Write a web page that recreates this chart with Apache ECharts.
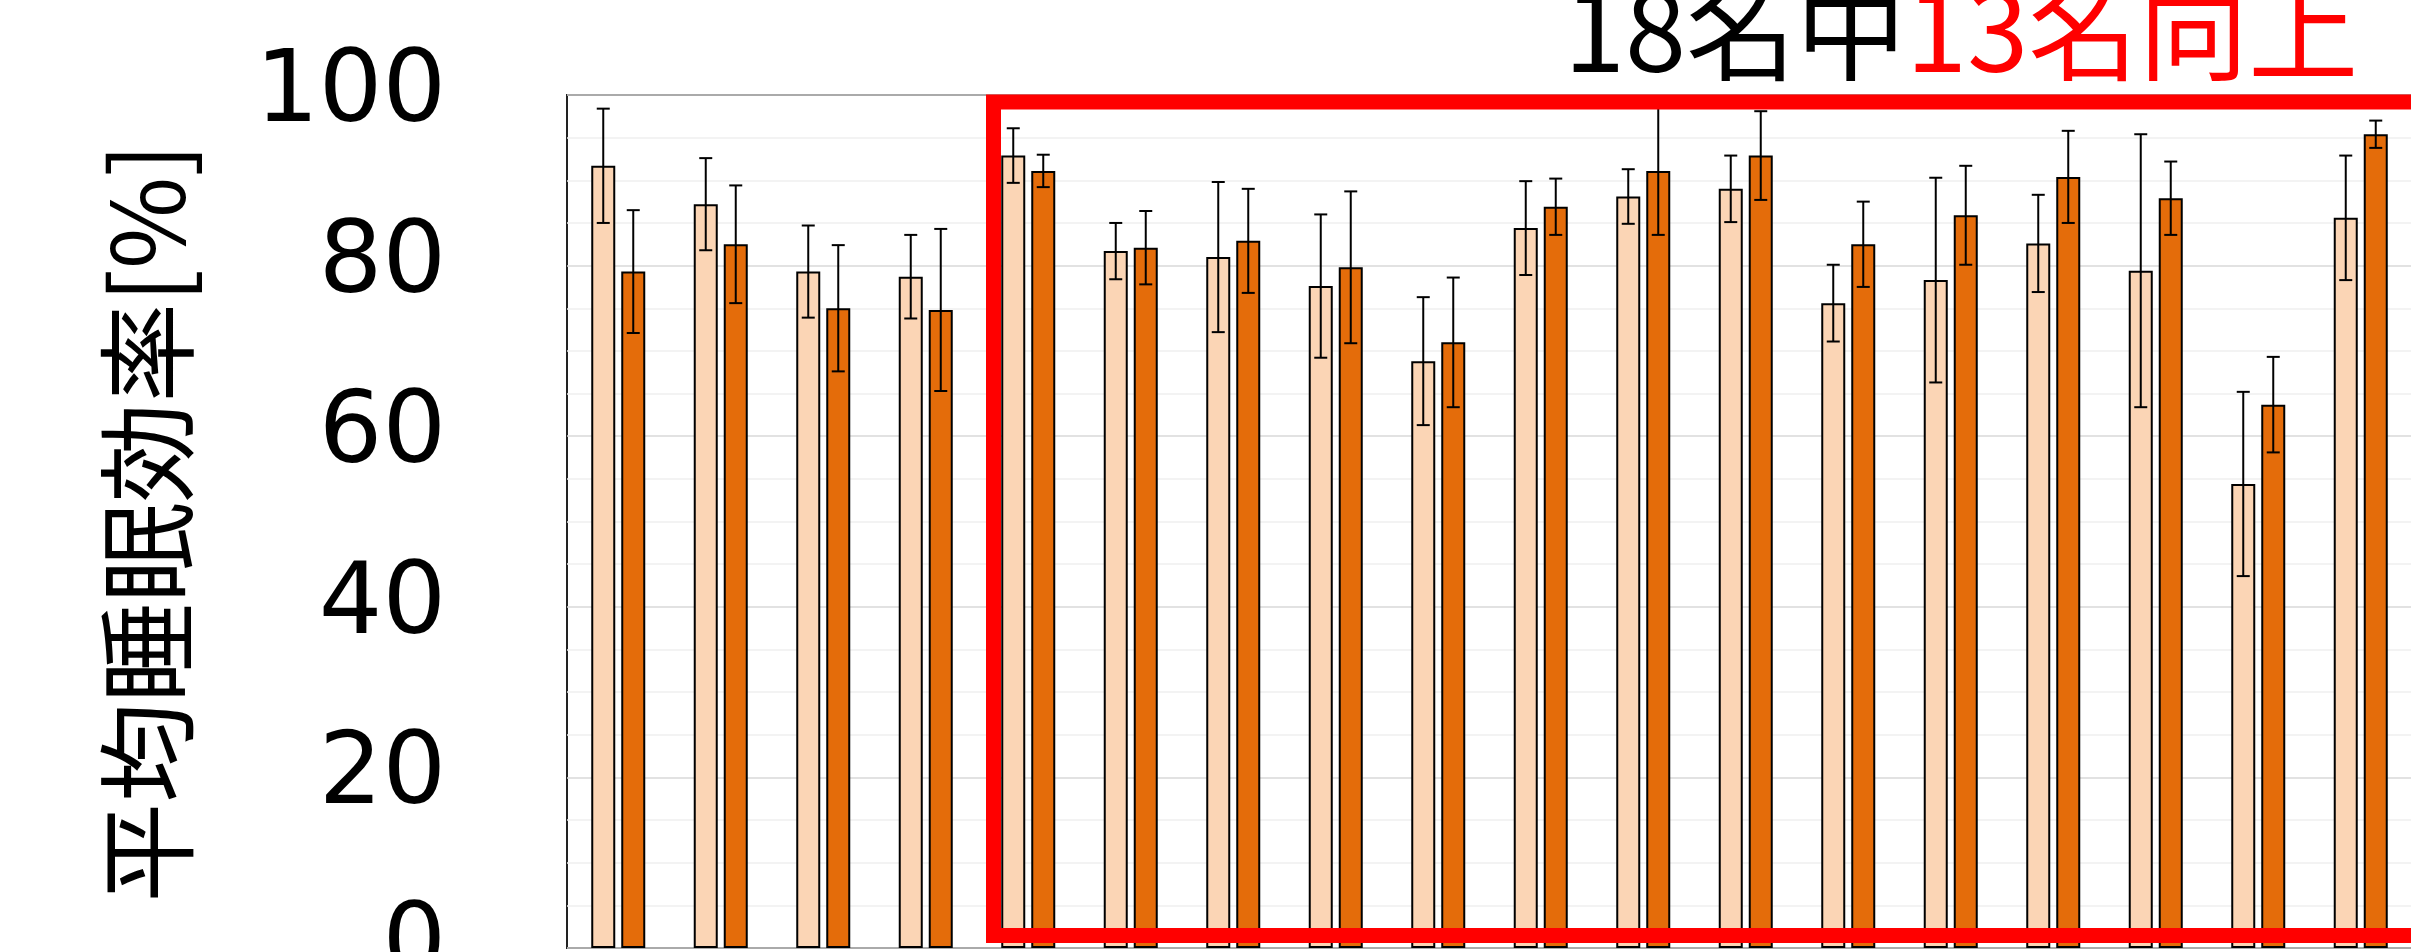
<!DOCTYPE html>
<html>
<head>
    <meta charset="utf-8">
    <title>平均睡眠効率</title>
    <script src="https://cdn.jsdelivr.net/npm/echarts@6/dist/echarts.min.js"></script>
</head>
<style>
    html,
    body {
        margin: 0;
        padding: 0;
        overflow: hidden;
        background: #fff;
    }
    .my-chart {
        width: 2411px;
        height: 952px;
    }
</style>
<body>
<div class="my-chart"></div>
<script type="text/javascript">
    // 参加者 18名
    var categories = ['1', '2', '3', '4', '5', '6', '7', '8', '9', '10', '11', '12', '13', '14', '15', '16', '17', '18'];
    // 介入前 (薄いオレンジ)
    var before = [91.7, 87.2, 79.3, 78.7, 92.9, 81.7, 81.0, 77.6, 68.8, 84.4, 88.1, 89.0, 75.6, 78.3, 82.6, 79.4, 54.4, 85.6];
    var beforeErr = [6.7, 5.4, 5.4, 4.9, 3.2, 3.3, 8.8, 8.4, 7.5, 5.5, 3.2, 3.9, 4.5, 12.0, 5.7, 16.0, 10.8, 7.3];
    // 介入後 (濃いオレンジ)
    var after = [79.3, 82.5, 75.0, 74.8, 91.1, 82.1, 82.9, 79.8, 71.0, 86.9, 91.1, 92.9, 82.5, 85.9, 90.4, 87.9, 63.7, 95.4];
    var afterErr = [7.2, 6.9, 7.4, 9.5, 1.9, 4.3, 6.1, 8.9, 7.6, 3.3, 7.5, 5.2, 5.0, 5.8, 5.4, 4.3, 5.6, 1.6];
    var yTicks = [0, 20, 40, 60, 80, 100];

    var lightColor = '#FBD5B5';
    var darkColor = '#E46C0A';

    function errData(vals, errs) {
        return vals.map(function (v, i) {
            return [i, v - errs[i], v + errs[i]];
        });
    }

    function errorRender(offset) {
        return function (params, api) {
            var x = api.coord([api.value(0), 0])[0] + offset;
            var lo = api.coord([api.value(0), api.value(1)])[1];
            var hi = api.coord([api.value(0), api.value(2)])[1];
            var cap = 6.5;
            var style = {stroke: '#000', lineWidth: 2};
            return {
                type: 'group',
                children: [
                    {type: 'line', shape: {x1: x, y1: hi, x2: x, y2: lo}, style: style},
                    {type: 'line', shape: {x1: x - cap, y1: hi, x2: x + cap, y2: hi}, style: style},
                    {type: 'line', shape: {x1: x - cap, y1: lo, x2: x + cap, y2: lo}, style: style}
                ]
            };
        };
    }

    var myChart = echarts.init(document.querySelector('.my-chart'));
    var option = {
        backgroundColor: '#fff',
        animation: false,
        grid: {
            left: 567,
            top: 95,
            width: 1845,
            bottom: 4,
            containLabel: false,
            outerBoundsMode: 'none',
            show: true,
            borderColor: '#222',
            borderWidth: 2,
            backgroundColor: 'transparent'
        },
        xAxis: {
            type: 'category',
            data: categories,
            axisLine: {show: false},
            axisTick: {show: false},
            axisLabel: {show: false}
        },
        yAxis: {
            type: 'value',
            min: yTicks[0],
            max: yTicks[yTicks.length - 1],
            interval: 20,
            axisLine: {show: false},
            axisTick: {show: false},
            axisLabel: {
                fontFamily: 'DejaVu Sans',
                fontSize: 100,
                color: '#000',
                margin: 121,
                padding: [0, 0, 28, 0]
            },
            splitLine: {lineStyle: {color: '#D9D9D9', width: 1.5}},
            minorTick: {show: false, splitNumber: 4},
            minorSplitLine: {show: true, lineStyle: {color: '#F0F0F0', width: 1.5}}
        },
        series: [
            {
                name: '介入前',
                type: 'bar',
                data: before,
                barWidth: 24,
                barGap: '25%',
                itemStyle: {color: lightColor, borderColor: '#000', borderWidth: 2}
            },
            {
                name: '介入後',
                type: 'bar',
                data: after,
                barWidth: 24,
                barGap: '25%',
                itemStyle: {color: darkColor, borderColor: '#000', borderWidth: 2}
            },
            {
                type: 'custom',
                renderItem: errorRender(-15),
                data: errData(before, beforeErr),
                encode: {x: 0, y: [1, 2]},
                z: 5
            },
            {
                type: 'custom',
                renderItem: errorRender(15),
                data: errData(after, afterErr),
                encode: {x: 0, y: [1, 2]},
                z: 5
            }
        ],
        graphic: [
            {
                type: 'text',
                x: 147,
                y: 523,
                rotation: Math.PI / 2,
                style: {
                    text: '平均睡眠効率[%]',
                    fontFamily: 'Noto Sans CJK JP',
                    fontSize: 100,
                    fill: '#000',
                    align: 'center',
                    verticalAlign: 'middle'
                }
            },
            {
                type: 'text',
                x: 1564,
                y: 30,
                style: {
                    text: '{a|18名中}{b|13名向上}',
                    fontFamily: 'Noto Sans CJK JP',
                    fontSize: 110,
                    align: 'left',
                    verticalAlign: 'middle',
                    rich: {
                        a: {fill: '#000', fontSize: 110, fontFamily: 'Noto Sans CJK JP'},
                        b: {fill: '#FF0000', fontSize: 110, fontFamily: 'Noto Sans CJK JP'}
                    }
                }
            },
            {
                // 向上した13名を囲む枠
                type: 'rect',
                z: 100,
                shape: {x: 993.5, y: 102, width: 1500, height: 833.5},
                style: {fill: null, stroke: '#FF0000', lineWidth: 15}
            }
        ]
    };
    myChart.setOption(option);
</script>
</body>
</html>
